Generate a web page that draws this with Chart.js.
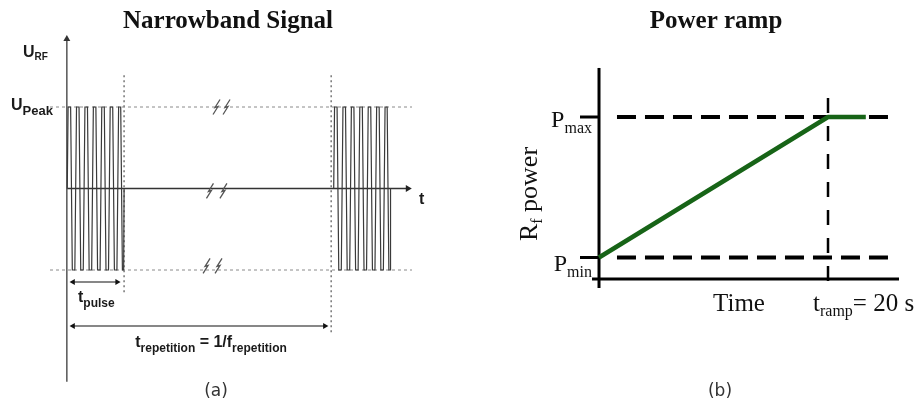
<!DOCTYPE html>
<html><head><meta charset="utf-8">
<script src="https://cdn.jsdelivr.net/npm/chart.js@4/dist/chart.umd.min.js"></script>
<style>
html,body{margin:0;padding:0;background:#fff;}
#wrap{position:relative;width:919px;height:404px;overflow:hidden;background:#fff;}
canvas{position:absolute;top:0;}
</style></head><body>
<div id="wrap">
<canvas id="left" width="460" height="404" style="left:0"></canvas>
<canvas id="right" width="459" height="404" style="left:460px"></canvas>
</div>
<script>
// ===== Panel (a): Narrowband Signal (x in carrier periods, y in units of U_peak) =====
const burst1X = [0.05, 0.15, 0.45, 0.65, 0.95, 1.15, 1.45, 1.65, 1.95, 2.15, 2.45, 2.65, 2.95, 3.15, 3.45, 3.65, 3.95, 4.15, 4.45, 4.65, 4.95, 5.15, 5.45, 5.65, 5.95, 6.15, 6.4, 6.6, 6.75, 6.8];
const burst1Y = [0, 1, 1, -1, -1, 1, 1, -1, -1, 1, 1, -1, -1, 1, 1, -1, -1, 1, 1, -1, -1, 1, 1, -1, -1, 1, 1, -1, -1, 0];
const burst2X = [31.7, 31.8, 32.1, 32.3, 32.6, 32.8, 33.1, 33.3, 33.6, 33.8, 34.1, 34.3, 34.6, 34.8, 35.1, 35.3, 35.6, 35.8, 36.1, 36.3, 36.6, 36.8, 37.1, 37.3, 37.6, 37.8, 38.05, 38.25, 38.4, 38.45];
const burst2Y = [0, 1, 1, -1, -1, 1, 1, -1, -1, 1, 1, -1, -1, 1, 1, -1, -1, 1, 1, -1, -1, 1, 1, -1, -1, 1, 1, -1, -1, 0];
const levelY = [1, -1];               // U_peak and -U_peak guide lines
const levelSpanX = [-2, 41];
const pulseMarkX = [6.8, 31.4];       // end of pulse, start of next repetition
const pulseMarkTopY = [1.39, 1.39];
const pulseMarkBottomY = [-1.28, -1.80];
const tPulseArrowX = [0.74, 5.97];
const tPulseArrowY = -1.147;
const tRepArrowX = [0.74, 30.65];
const tRepArrowY = -1.687;
const leftAxisY = [-2.37, 1.834];
const leftAxisX = [0, 40.5];
const breakMarks = [[17.78, 1], [18.97, 1], [17.0, -0.03], [18.6, -0.03], [16.6, -0.95], [18.02, -0.95]];

// ===== Panel (b): Power ramp (x in seconds, y: 0 = P_min, 1 = P_max) =====
const rampTime = [0, 20, 23.3];
const rampPower = [0, 1, 1];
const pLevels = [1, 0];               // P_max, P_min
const pDashX = [1.57, 26.0];
const pTickX = [-1.66, 0];
const tRamp = 20;
const tRampLineY = [1.135, -0.246];
const rightAxisXSpan = [-0.61, 26.2];
const rightAxisYSpan = [-0.217, 1.349];
const rightAxisBase = -0.153;

function pts(xs, ys) { return xs.map((x, i) => ({x, y: ys[i]})); }

function drawRuns(ctx, runs, x, y, align) {
  let total = 0;
  runs.forEach(r => { ctx.font = r[1]; total += ctx.measureText(r[0]).width; });
  let cx = align === 'center' ? x - total / 2 : align === 'right' ? x - total : x;
  ctx.textAlign = 'left';
  ctx.textBaseline = 'alphabetic';
  runs.forEach(r => { ctx.font = r[1]; ctx.fillText(r[0], cx, y + r[2]); cx += ctx.measureText(r[0]).width; });
}

const SANS = '"Liberation Sans", Arial, sans-serif';
const SERIF = '"Liberation Serif", "Times New Roman", serif';

const baseOpts = (pad, xr, yr) => ({
  responsive: false,
  animation: false,
  events: [],
  layout: { padding: pad },
  plugins: { legend: { display: false }, tooltip: { enabled: false }, title: { display: false } },
  scales: {
    x: { type: 'linear', display: false, min: xr[0], max: xr[1] },
    y: { type: 'linear', display: false, min: yr[0], max: yr[1] }
  }
});

const line = (data, color, width, extra) => Object.assign({
  type: 'line', data, borderColor: color, borderWidth: width, pointRadius: 0,
  fill: false, tension: 0, clip: false, borderCapStyle: 'butt'
}, extra || {});

// ---------- Left chart ----------
const leftText = {
  id: 'leftText',
  afterDraw(chart) {
    const {ctx, scales: {x, y}} = chart;
    ctx.save();
    ctx.fillStyle = '#111';
    ctx.font = 'bold 25px ' + SERIF;
    ctx.textAlign = 'center';
    ctx.fillText('Narrowband Signal', 228, 28);
    // break marks
    ctx.strokeStyle = '#555';
    ctx.lineWidth = 1.3;
    breakMarks.forEach(([bx, by]) => {
      const cx = x.getPixelForValue(bx), cy = y.getPixelForValue(by);
      ctx.beginPath();
      ctx.moveTo(cx + 3.5, cy - 7.5);
      ctx.lineTo(cx - 1.5, cy + 0.5);
      ctx.lineTo(cx + 1.5, cy - 0.5);
      ctx.lineTo(cx - 3.5, cy + 7.5);
      ctx.stroke();
    });
    ctx.fillStyle = '#1a1a1a';
    drawRuns(ctx, [['U', 'bold 16px ' + SANS, 0], ['RF', 'bold 10px ' + SANS, 3]], 23, 57, 'left');
    const yPk = y.getPixelForValue(1);
    drawRuns(ctx, [['U', 'bold 16px ' + SANS, 0], ['Peak', 'bold 13px ' + SANS, 5]], 11, yPk + 3, 'left');
    drawRuns(ctx, [['t', 'bold 16px ' + SANS, 0]], x.getPixelForValue(41) + 7, y.getPixelForValue(0) + 15, 'left');
    drawRuns(ctx, [['t', 'bold 16px ' + SANS, 0], ['pulse', 'bold 12px ' + SANS, 5]], 78, 302, 'left');
    drawRuns(ctx, [['t', 'bold 16px ' + SANS, 0], ['repetition', 'bold 12px ' + SANS, 5], [' = 1/f', 'bold 16px ' + SANS, 0], ['repetition', 'bold 12px ' + SANS, 5]], 211, 347, 'center');
    ctx.fillStyle = '#333';
    drawRuns(ctx, [['(a)', '17px "DejaVu Sans", sans-serif', 0]], 216, 396, 'center');
    ctx.restore();
  }
};

new Chart(document.getElementById('left'), {
  type: 'line',
  data: {
    datasets: [
      line(pts(burst1X, burst1Y), '#3a3a3a', 1.2),
      line(pts(burst2X, burst2Y), '#3a3a3a', 1.2),
      line(pts(levelSpanX, [levelY[0], levelY[0]]), '#8a8a8a', 1, { borderDash: [3, 3] }),
      line(pts(levelSpanX, [levelY[1], levelY[1]]), '#8a8a8a', 1, { borderDash: [3, 3] }),
      line(pts([pulseMarkX[0], pulseMarkX[0]], [pulseMarkTopY[0], pulseMarkBottomY[0]]), '#777', 1.5, { borderDash: [2, 3] }),
      line(pts([pulseMarkX[1], pulseMarkX[1]], [pulseMarkTopY[1], pulseMarkBottomY[1]]), '#777', 1.5, { borderDash: [2, 3] }),
      line(pts(tPulseArrowX, [tPulseArrowY, tPulseArrowY]), '#111', 1.2, { pointStyle: 'triangle', pointRadius: 3.5, pointRotation: [270, 90], pointBackgroundColor: '#111', pointBorderColor: '#111', pointBorderWidth: 0 }),
      line(pts(tRepArrowX, [tRepArrowY, tRepArrowY]), '#111', 1.2, { pointStyle: 'triangle', pointRadius: 3.5, pointRotation: [270, 90], pointBackgroundColor: '#111', pointBorderColor: '#111', pointBorderWidth: 0 }),
      line(pts([0, 0], leftAxisY), '#555', 1.5, { pointStyle: 'triangle', pointRadius: [0, 4], pointRotation: 0, pointBackgroundColor: '#333', pointBorderColor: '#333', pointBorderWidth: 0 }),
      line(pts(leftAxisX, [0, 0]), '#333', 1.5, { pointStyle: 'triangle', pointRadius: [0, 4], pointRotation: 90, pointBackgroundColor: '#222', pointBorderColor: '#222', pointBorderWidth: 0 })
    ]
  },
  options: baseOpts({ left: 50, right: 48, top: 25.5, bottom: 11.75 }, [-2, 41], [-2.5, 2.0]),
  plugins: [leftText]
});

// ---------- Right chart ----------
const rightText = {
  id: 'rightText',
  afterDraw(chart) {
    const {ctx, scales: {x, y}} = chart;
    ctx.save();
    ctx.fillStyle = '#111';
    ctx.font = 'bold 25px ' + SERIF;
    ctx.textAlign = 'center';
    ctx.fillText('Power ramp', 256, 28);
    const xl = x.getPixelForValue(pTickX[0]) + 12;
    drawRuns(ctx, [['P', '24px ' + SERIF, 0], ['max', '16px ' + SERIF, 6]], xl, y.getPixelForValue(1) + 10, 'right');
    drawRuns(ctx, [['P', '24px ' + SERIF, 0], ['min', '16px ' + SERIF, 6]], xl, y.getPixelForValue(0) + 13, 'right');
    ctx.save();
    ctx.translate(77, 194);
    ctx.rotate(-Math.PI / 2);
    drawRuns(ctx, [['R', '26px ' + SERIF, 0], ['f', '16px ' + SERIF, 5], [' power', '26px ' + SERIF, 0]], 0, 0, 'center');
    ctx.restore();
    drawRuns(ctx, [['Time', '25px ' + SERIF, 0]], 279, 311, 'center');
    drawRuns(ctx, [['t', '25px ' + SERIF, 0], ['ramp', '16px ' + SERIF, 5], ['= 20 s', '25px ' + SERIF, 0]], x.getPixelForValue(tRamp) - 15, 311, 'left');
    ctx.fillStyle = '#333';
    drawRuns(ctx, [['(b)', '17px "DejaVu Sans", sans-serif', 0]], 260, 396, 'center');
    ctx.restore();
  }
};

new Chart(document.getElementById('right'), {
  type: 'line',
  data: {
    datasets: [
      line(pts(rampTime, rampPower), '#176417', 4.5, { borderJoinStyle: 'round' }),
      line(pts(pDashX, [pLevels[0], pLevels[0]]), '#000', 4, { borderDash: [19, 9] }),
      line(pts(pDashX, [pLevels[1], pLevels[1]]), '#000', 4, { borderDash: [19, 9] }),
      line(pts([tRamp, tRamp], tRampLineY), '#000', 2.5, { borderDash: [15, 13] }),
      line(pts(pTickX, [pLevels[0], pLevels[0]]), '#000', 3),
      line(pts(pTickX, [pLevels[1], pLevels[1]]), '#000', 3),
      line(pts([0, 0], rightAxisYSpan), '#000', 3),
      line(pts(rightAxisXSpan, [rightAxisBase, rightAxisBase]), '#000', 3)
    ]
  },
  options: baseOpts({ left: 120, right: 20, top: 60.8, bottom: 104.35 }, [-1.66, 26.2], [-0.3, 1.4]),
  plugins: [rightText]
});
</script>
</body></html>
